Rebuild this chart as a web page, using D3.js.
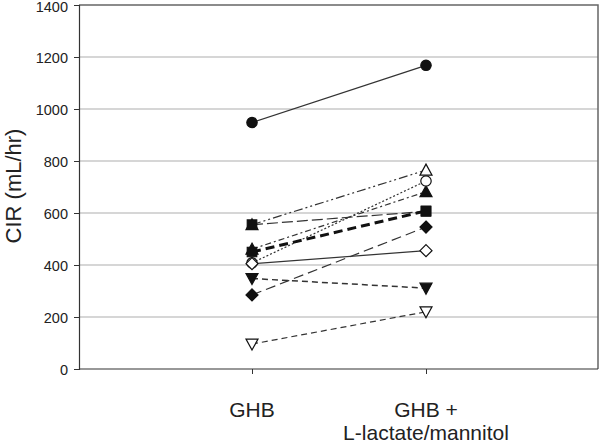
<!DOCTYPE html>
<html>
<head>
<meta charset="utf-8">
<script src="https://cdn.jsdelivr.net/npm/d3@7"></script>
<style>
  body { margin: 0; background: #fff; }
  svg text { font-family: "Liberation Sans", Arial, sans-serif; fill: #222; }
</style>
</head>
<body>
<svg id="chart"></svg>
<script>
//Chart data
let categories = ['GHB', 'GHB +|L-lactate/mannitol'];
let yTicks = [0, 200, 400, 600, 800, 1000, 1200, 1400];

//One entry per subject (+ mean): values at GHB and at GHB + L-lactate/mannitol
let seriesNames = ['s1', 's2', 's3', 's4', 's5', 's6', 's7', 's8', 's9', 'mean'];
let ghbValues   = [948, 555, 555, 461, 408, 405, 348, 285, 96, 450];
let comboValues = [1168, 765, 606, 682, 723, 455, 311, 546, 220, 608];

//Marker / line style per series
let markers = ['circleF', 'triUpO', 'squareF', 'triUpF', 'circleO', 'diamondO', 'triDownF', 'diamondF', 'triDownO', 'squareF'];
let dashes  = ['', '9,3,2,3,2,3', '11,4', '6,3,2,3', '2,2', '', '6,4', '10,5', '6,4', '9,5'];
let widths  = [1.2, 1.2, 1.2, 1.2, 1.2, 1.2, 1.5, 1.2, 1.2, 3];

//Canvas
let canvasDimension = { width: 600, height: 443 };
let plot = { left: 79, right: 598, top: 5, bottom: 369 };

let svg = d3.select('#chart')
  .attr('width', canvasDimension.width)
  .attr('height', canvasDimension.height);

//Scales
let xScale = d3.scaleLinear().domain([0, 3]).range([78, 600]);
let yScale = d3.scaleLinear().domain([0, 1400]).range([plot.bottom, plot.top]);

//Gridlines
svg.append('g')
  .selectAll('line')
  .data(yTicks.filter(t => t > 0 && t < 1400))
  .enter()
  .append('line')
  .attr('x1', plot.left).attr('x2', plot.right)
  .attr('y1', d => yScale(d)).attr('y2', d => yScale(d))
  .attr('stroke', '#c8c8c8')
  .attr('stroke-width', 1.5);

//Plot frame (top and right)
svg.append('path')
  .attr('d', 'M' + plot.left + ',' + yScale(1400) + 'H' + plot.right + 'V' + plot.bottom)
  .attr('fill', 'none')
  .attr('stroke', '#666')
  .attr('stroke-width', 1.5);

//Y axis
let yAxis = d3.axisLeft(yScale).tickValues(yTicks).tickSize(5).tickPadding(6).tickFormat(d3.format('d'));
let gy = svg.append('g')
  .attr('transform', 'translate(' + plot.left + ',0)')
  .call(yAxis);
gy.select('.domain').attr('stroke', '#333').attr('stroke-width', 1.2);
gy.selectAll('.tick line').attr('stroke', '#333');
gy.selectAll('.tick text')
  .style('font-size', '14.5px')
  .attr('fill', '#222')
  .attr('dy', d => d === 1400 ? '0.45em' : '0.35em');

//X axis
let xAxis = d3.axisBottom(xScale).tickValues([1, 2]).tickSize(5).tickFormat('');
let gx = svg.append('g')
  .attr('transform', 'translate(0,' + plot.bottom + ')')
  .call(xAxis);
gx.select('.domain').attr('d', 'M' + plot.left + ',0H' + plot.right).attr('stroke', '#333').attr('stroke-width', 1.2);
gx.selectAll('.tick line').attr('stroke', '#333');

//Category labels
categories.forEach((c, i) => {
  let t = svg.append('text')
    .attr('x', xScale(i + 1))
    .attr('y', 417)
    .attr('text-anchor', 'middle')
    .style('font-size', '21px');
  c.split('|').forEach((part, j) => {
    t.append('tspan').attr('x', xScale(i + 1)).attr('dy', j === 0 ? 0 : 23).text(part);
  });
});

//Y axis title
svg.append('text')
  .attr('transform', 'rotate(-90)')
  .attr('x', -186)
  .attr('y', 21)
  .attr('text-anchor', 'middle')
  .style('font-size', '22px')
  .text('CIR (mL/hr)');

//Lines
let lineGen = d3.line().x(d => xScale(d[0])).y(d => yScale(d[1]));
let seriesData = seriesNames.map((n, i) => ({
  name: n,
  points: [[1, ghbValues[i]], [2, comboValues[i]]],
  marker: markers[i], dash: dashes[i], width: widths[i]
}));

svg.append('g')
  .selectAll('path')
  .data(seriesData)
  .enter()
  .append('path')
  .attr('d', d => lineGen(d.points))
  .attr('fill', 'none')
  .attr('stroke', d => d.name === 'mean' ? '#111' : '#333')
  .attr('stroke-width', d => d.width)
  .attr('stroke-dasharray', d => d.dash);

//Marker shapes
function markerPath(type) {
  if (type.startsWith('circle')) return d3.symbol(d3.symbolCircle, 85)();
  if (type.startsWith('square')) return d3.symbol(d3.symbolSquare, 90)();
  if (type.startsWith('diamond')) return 'M0,-6L6,0L0,6L-6,0Z';
  if (type.startsWith('triUp')) return 'M0,-6L6,5L-6,5Z';
  if (type.startsWith('triDown')) return 'M0,6L6,-5L-6,-5Z';
}

seriesData.forEach(s => {
  svg.append('g')
    .selectAll('path')
    .data(s.points)
    .enter()
    .append('path')
    .attr('transform', d => 'translate(' + xScale(d[0]) + ',' + yScale(d[1]) + ')')
    .attr('d', markerPath(s.marker))
    .attr('fill', s.marker.endsWith('F') ? '#111' : '#fff')
    .attr('stroke', '#111')
    .attr('stroke-width', 1.2);
});
</script>
</body>
</html>
